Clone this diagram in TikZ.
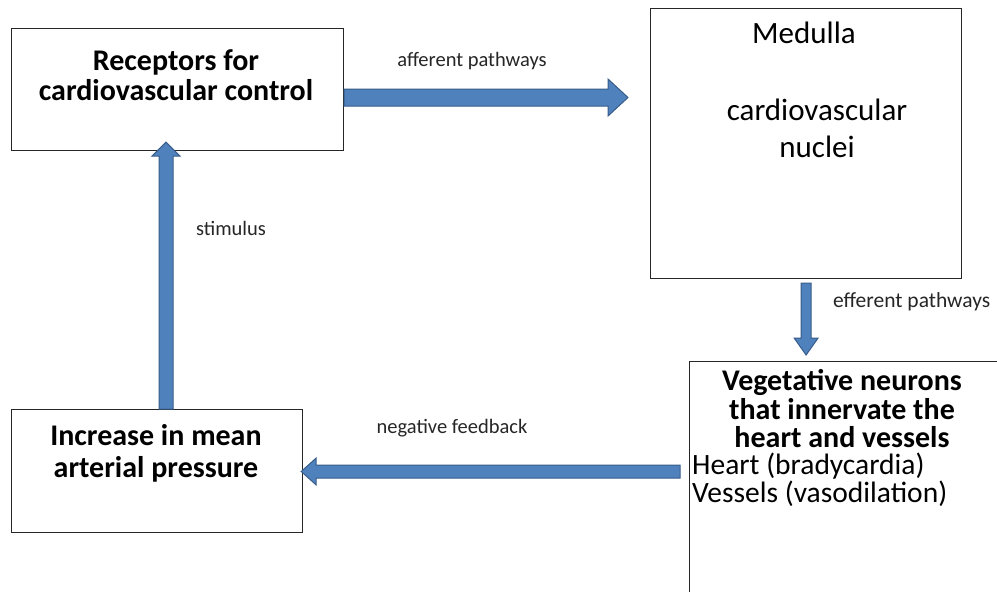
\documentclass[tikz,border=0pt]{standalone}
\usepackage{fontspec}
\setmainfont{Carlito}
\usetikzlibrary{calc}
\definecolor{arrfill}{HTML}{4F81BD}
\definecolor{arrline}{HTML}{385D8A}
\tikzset{
  box/.style={draw=black!85, line width=1.2pt, fill=white, inner sep=0pt, anchor=north west},
  blockarr/.style={fill=arrfill, draw=arrline, line width=1pt, line join=miter},
  boldtxt/.style={font=\fontsize{30}{29.5}\selectfont\bfseries, align=center, inner sep=0pt},
  boldtight/.style={font=\fontsize{30}{28.5}\selectfont\bfseries, align=center, inner sep=0pt},
  regtxt/.style={font=\fontsize{29.5}{28.5}\selectfont, align=left, inner sep=0pt},
  medtxt/.style={font=\fontsize{31}{37}\selectfont, align=center, inner sep=0pt},
  lbl/.style={font=\fontsize{20.5}{24}\selectfont, inner sep=0pt, text=black!85},
}
% #1 start, #2 end, #3 shaft half width, #4 head half width, #5 head length
\newcommand{\blockarrow}[5]{%
  \coordinate (ba-h) at ($(#2)!#5!(#1)$);
  \filldraw[blockarr] ($(#1)!#3!90:(#2)$) -- ($(ba-h)!#3!90:(#2)$) -- ($(ba-h)!#4!90:(#2)$) -- (#2)
    -- ($(ba-h)!#4!-90:(#2)$) -- ($(ba-h)!#3!-90:(#2)$) -- ($(#1)!#3!-90:(#2)$) -- cycle;
}
\begin{document}
\begin{tikzpicture}[x=1pt,y=-1pt]
\useasboundingbox[fill=white] (0,0) rectangle (997,592);
\clip (0,0) rectangle (997,592);
% boxes
\node[box, minimum width=332pt, minimum height=122pt] (rec) at (11,28) {};
\node[box, minimum width=311pt, minimum height=270pt] (med) at (650,8) {};
\node[box, minimum width=340pt, minimum height=260pt] (veg) at (689,361) {};
\node[box, minimum width=291pt, minimum height=123pt] (inc) at (11,409) {};
% texts
\node[boldtxt] (rectxt) at (176,75) {Receptors for\\cardiovascular control};
\node[medtxt] (medt1) at (804,33) {Medulla};
\node[medtxt] (medt2) at (817,128) {cardiovascular\\nuclei};
\node[boldtight] (vegtxt) at (842,409) {Vegetative neurons\\that innervate the\\heart and vessels};
\node[regtxt, anchor=west] (vegreg) at (692,480) {Heart (bradycardia)\\Vessels (vasodilation)};
\node[boldtxt, font=\fontsize{30}{32}\selectfont\bfseries] (inctxt) at (156,453) {Increase in mean\\arterial pressure};
% labels
\node[lbl] (laff) at (472,61) {afferent pathways};
\node[lbl, anchor=west, font=\fontsize{21.5}{24}\selectfont] (leff) at (833,302) {efferent pathways};
\node[lbl] (lneg) at (452,428) {negative feedback};
\node[lbl] (lstim) at (231,228) {stimulus};
% arrow end points
\coordinate (a1s) at (rec.east |- 0,97.5);
\coordinate (a1e) at ($(med.west |- 0,97.5)+(-22,0)$);
\coordinate (a2s) at ($(med.south)+(0,4)$);
\coordinate (a2e) at ($(veg.north -| med.south)+(0,-6)$);
\coordinate (a3s) at ($(veg.west |- 0,471.5)+(-9,0)$);
\coordinate (a3e) at ($(inc.east |- 0,471.5)+(-2,0)$);
\coordinate (a4s) at (inc.north -| 166,0);
\coordinate (a4e) at ($(rec.south -| 166,0)+(0,-9)$);
\blockarrow{a1s}{a1e}{8.5pt}{18.5pt}{20pt}
\blockarrow{a2s}{a2e}{5pt}{12pt}{17pt}
\blockarrow{a3s}{a3e}{6.5pt}{13.5pt}{15pt}
\blockarrow{a4s}{a4e}{7pt}{14pt}{14pt}
\end{tikzpicture}
\end{document}
